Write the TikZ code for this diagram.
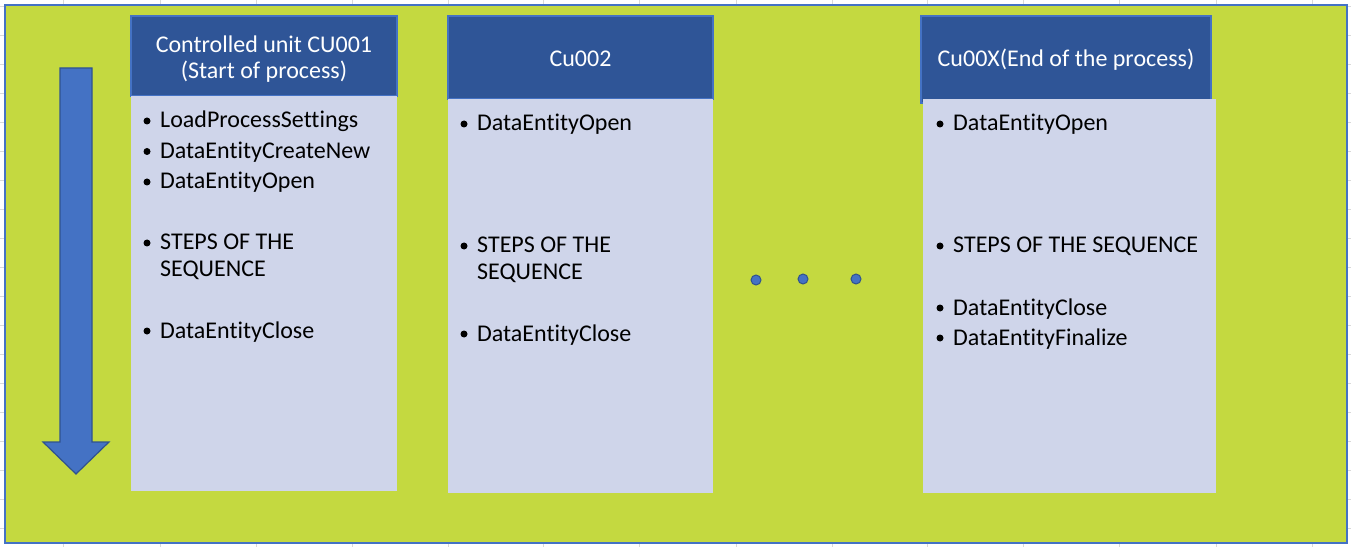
\documentclass[tikz,border=0pt]{standalone}
\usepackage{fontspec}
\setmainfont{Carlito}[Ligatures=NoCommon]
\definecolor{limebg}{HTML}{C4D940}
\definecolor{frameblue}{HTML}{4472C4}
\definecolor{headblue}{HTML}{2F5597}
\definecolor{bodyblue}{HTML}{CFD5EA}
\definecolor{darkedge}{HTML}{2F528F}
\definecolor{gridgray}{HTML}{D9D9D9}
\tikzset{
  headbox/.style={draw=frameblue, line width=1.5bp, fill=headblue, inner sep=0pt, outer sep=0pt, rectangle},
  bodybox/.style={fill=bodyblue, draw=none, inner sep=0pt, outer sep=0pt, rectangle},
  headtext/.style={text=white, inner sep=0pt, font=\fontsize{24bp}{30bp}\selectfont},
  itemtext/.style={text=black, inner sep=0pt, anchor=base west, font=\fontsize{24bp}{30bp}\selectfont},
  bul/.style={fill=black},
  dotmark/.style={fill=frameblue, draw=darkedge, line width=1bp},
}
\begin{document}
\begin{tikzpicture}[x=1bp,y=-1bp]
\useasboundingbox (0,0) rectangle (1351,547);
\fill[white] (0,0) rectangle (1351,547);
% spreadsheet grid
\foreach \gx in {63,160,256,352,448,543,639,736,832,927,1023,1119,1216,1312}
  \draw[gridgray, line width=0.8bp] (\gx,0) -- (\gx,547);
\foreach \gy in {6,35,64,93,122,151,180,209,238,267,296,325,354,383,412,441,470,499,528}
  \draw[gridgray, line width=0.8bp] (0,\gy) -- (1351,\gy);
% background panel
\draw[fill=limebg, draw=frameblue, line width=2.5bp] (5,5) rectangle (1347,543);
% down arrow
\draw[fill=frameblue, draw=darkedge, line width=1.2bp, line join=miter]
  (60,68) -- (92,68) -- (92,442) -- (109,442) -- (76,474) -- (43,442) -- (60,442) -- cycle;

% Box 1
\node[headbox, minimum width=266bp, minimum height=80bp] (h1) at (264,56) {};
\node[bodybox, minimum width=266bp, minimum height=395bp] (b1) at (264,293.5) {};
\node[headtext, anchor=base] (h1a) at (264,53) {Controlled unit CU001};
\node[headtext, anchor=base] (h1b) at (264,79) {(Start of process)};
\fill[bul] (147,121) circle (3.5);
\node[itemtext] (t1a) at (160,128) {LoadProcessSettings};
\fill[bul] (147,151.5) circle (3.5);
\node[itemtext] (t1b) at (160,158.5) {DataEntityCreateNew};
\fill[bul] (147,182) circle (3.5);
\node[itemtext] (t1c) at (160,189) {DataEntityOpen};
\fill[bul] (147,243) circle (3.5);
\node[itemtext] (t1d) at (160,250) {STEPS OF THE};
\node[itemtext] (t1e) at (160,276) {SEQUENCE};
\fill[bul] (147,331) circle (3.5);
\node[itemtext] (t1f) at (160,338) {DataEntityClose};

% Box 2
\node[headbox, minimum width=265bp, minimum height=83bp] (h2) at (580.5,57.5) {};
\node[bodybox, minimum width=265bp, minimum height=394bp] (b2) at (580.5,296) {};
\node[headtext, anchor=base] (h2a) at (580.5,67) {Cu002};
\fill[bul] (464,124) circle (3.5);
\node[itemtext] (t2a) at (477,131) {DataEntityOpen};
\fill[bul] (464,246) circle (3.5);
\node[itemtext] (t2b) at (477,253) {STEPS OF THE};
\node[itemtext] (t2c) at (477,279) {SEQUENCE};
\fill[bul] (464,334) circle (3.5);
\node[itemtext] (t2d) at (477,341) {DataEntityClose};

% dots
\filldraw[dotmark] (756,280) circle (5);
\filldraw[dotmark] (803,279) circle (5);
\filldraw[dotmark] (856,279) circle (5);

% Box 3
\node[headbox, minimum width=290bp, minimum height=87bp] (h3) at (1066,59.5) {};
\node[bodybox, minimum width=293bp, minimum height=394bp] (b3) at (1069.5,296) {};
\node[headtext, anchor=base] (h3a) at (1066,67) {Cu00X(End of the process)};
\fill[bul] (940,124) circle (3.5);
\node[itemtext] (t3a) at (953,131) {DataEntityOpen};
\fill[bul] (940,246) circle (3.5);
\node[itemtext] (t3b) at (953,253) {STEPS OF THE SEQUENCE};
\fill[bul] (940,308) circle (3.5);
\node[itemtext] (t3c) at (953,315) {DataEntityClose};
\fill[bul] (940,338) circle (3.5);
\node[itemtext] (t3d) at (953,345) {DataEntityFinalize};
\end{tikzpicture}
\end{document}
